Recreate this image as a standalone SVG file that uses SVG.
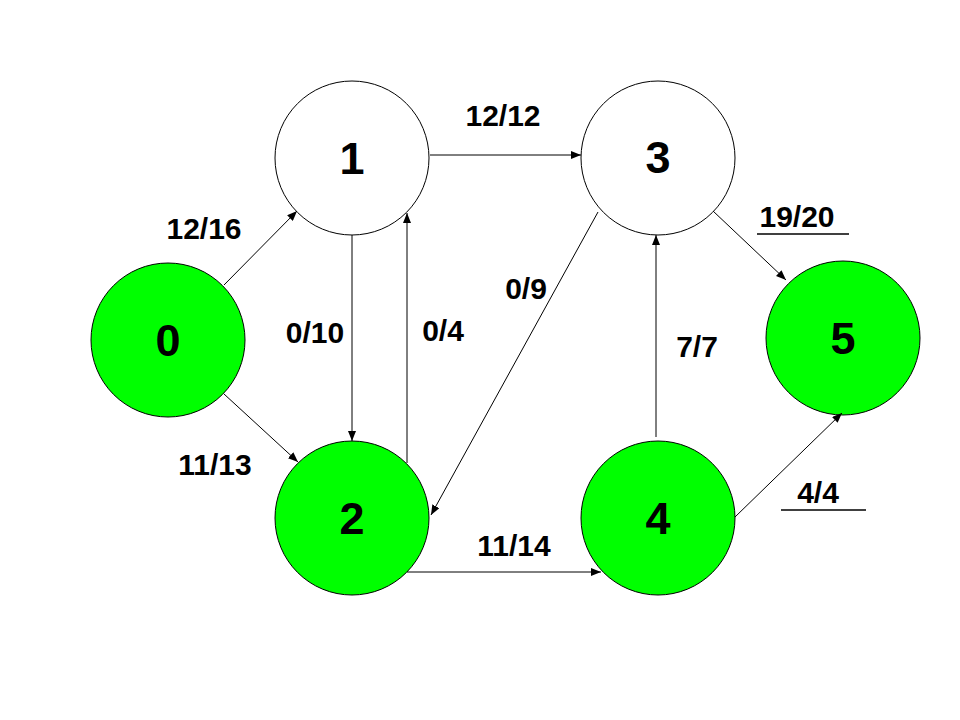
<svg xmlns="http://www.w3.org/2000/svg" width="960" height="720" viewBox="0 0 960 720">
<style>
.n{stroke:#000;stroke-width:1}
.w{fill:#fff}
.g{fill:#00ff00}
.nl{font-family:"Liberation Sans",Arial,sans-serif;font-weight:bold;font-size:45px;text-anchor:middle}
.el{font-family:"Liberation Sans",Arial,sans-serif;font-weight:bold;font-size:30px;text-anchor:middle}
.c line{stroke:#000;stroke-width:1;marker-end:url(#a)}
.u{stroke:#000;stroke-width:1.5}
</style>
<defs>
<marker id="a" viewBox="0 0 10 8" refX="10" refY="4" markerWidth="10" markerHeight="8" markerUnits="userSpaceOnUse" orient="auto">
<path d="M0,0 L10,4 L0,8 z" fill="#000"/>
</marker>
</defs>
<rect width="960" height="720" fill="#fff"/>
<g id="node0"><circle class="n g" cx="168" cy="340" r="77"/><text class="nl" x="168" y="356">0</text></g>
<g id="node1"><circle class="n w" cx="352" cy="158" r="77"/><text class="nl" x="352" y="174">1</text></g>
<g id="node2"><circle class="n g" cx="352" cy="518" r="77"/><text class="nl" x="352" y="534">2</text></g>
<g id="node3"><circle class="n w" cx="658" cy="158" r="77"/><text class="nl" x="658" y="173">3</text></g>
<g id="node4"><circle class="n g" cx="658" cy="518" r="77"/><text class="nl" x="658" y="534">4</text></g>
<g id="node5"><circle class="n g" cx="843" cy="338" r="77"/><text class="nl" x="843" y="354">5</text></g>
<g id="connectors" class="c">
<line x1="224" y1="285" x2="297" y2="211"/>
<line x1="224" y1="394" x2="298" y2="462"/>
<line x1="352" y1="235" x2="352" y2="441"/>
<line x1="407" y1="463" x2="407" y2="213"/>
<line x1="430" y1="155" x2="581" y2="155"/>
<line x1="598" y1="212" x2="431" y2="515"/>
<line x1="656" y1="437" x2="656" y2="235"/>
<line x1="713" y1="211" x2="786" y2="280"/>
<line x1="735" y1="517" x2="842" y2="413"/>
<line x1="407" y1="572" x2="601" y2="572"/>
</g>
<g id="labels">
<text class="el" x="204" y="239">12/16</text>
<text class="el" x="215" y="475">11/13</text>
<text class="el" x="315" y="343">0/10</text>
<text class="el" x="443" y="341">0/4</text>
<text class="el" x="503" y="126">12/12</text>
<text class="el" x="526" y="299">0/9</text>
<text class="el" x="697" y="357">7/7</text>
<text class="el" x="797" y="227">19/20</text>
<line class="u" x1="757" y1="234" x2="849" y2="234"/>
<text class="el" x="818" y="503">4/4</text>
<line class="u" x1="781" y1="510" x2="866" y2="510"/>
<text class="el" x="514" y="556">11/14</text>
</g>
</svg>
